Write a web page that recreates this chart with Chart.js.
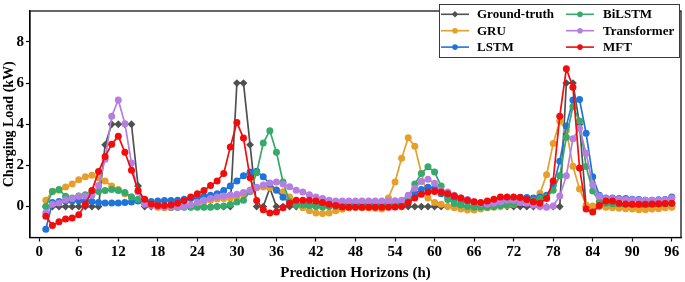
<!DOCTYPE html>
<html><head><meta charset="utf-8">
<script src="https://cdn.jsdelivr.net/npm/chart.js@4.4.1/dist/chart.umd.min.js"></script>
<style>html,body{margin:0;padding:0;background:#fff;}#wrap{position:relative;width:685px;height:282px;}</style>
</head><body><div id="wrap"><canvas id="c" width="685" height="282"></canvas></div>
<script>
const hours = [1,2,3,4,5,6,7,8,9,10,11,12,13,14,15,16,17,18,19,20,21,22,23,24,
25,26,27,28,29,30,31,32,33,34,35,36,37,38,39,40,41,42,43,44,45,46,47,48,
49,50,51,52,53,54,55,56,57,58,59,60,61,62,63,64,65,66,67,68,69,70,71,72,
73,74,75,76,77,78,79,80,81,82,83,84,85,86,87,88,89,90,91,92,93,94,95,96];
const xTicks = [0,6,12,18,24,30,36,42,48,54,60,66,72,78,84,90,96];
const yTicks = [0,2,4,6,8];
const seriesNames = ['Ground-truth','GRU','LSTM','BiLSTM','Transformer','MFT'];

const groundTruth = [0,0,0,0,0,0,0,0,0,3,4,4,
4,4,1,0,0,0,0,0,0,0,0,0,
0,0,0,0,0,6,6,3,0,0,0.9,0,
0,0,0,0,0,0,0,0,0,0,0,0,
0,0,0,0,0,0,0,0,0,0,0,0,
0,0,0,0,0,0,0,0,0,0,0,0,
0,0,0,0,0,0,0,6,6,4,0,0,
0,0,0,0,0,0,0,0,0,0,0,0];
const gru = [0.31,0.75,0.8,0.95,1.1,1.3,1.45,1.52,1.4,1.25,1.0,0.83,
0.63,0.47,0.31,0.2,0.08,-0.03,-0.05,-0.05,-0.03,0.0,0.05,0.16,
0.24,0.31,0.37,0.4,0.42,0.47,0.6,0.8,0.92,0.95,0.9,0.82,
0.72,0.47,0.08,-0.05,-0.2,-0.31,-0.33,-0.31,-0.2,-0.13,-0.05,-0.03,
-0.05,-0.05,-0.08,-0.11,0.42,1.2,2.35,3.34,2.93,1.61,0.42,0.2,
0.11,0.0,-0.05,-0.11,-0.16,-0.16,-0.11,-0.06,-0.03,0.0,0.05,0.12,
0.24,0.31,0.39,0.65,1.55,3.06,4.15,3.7,1.96,0.86,0.08,0.03,
0.0,-0.03,-0.05,-0.08,-0.1,-0.12,-0.15,-0.15,-0.12,-0.1,-0.05,-0.03];
const lstm = [-1.1,0.2,0.25,0.27,0.28,0.28,0.27,0.25,0.2,0.18,0.17,0.17,
0.2,0.23,0.27,0.28,0.25,0.27,0.3,0.3,0.31,0.36,0.39,0.44,
0.5,0.55,0.63,0.78,1.0,1.25,1.5,1.68,1.72,1.45,1.1,0.8,
0.45,0.2,0.12,0.1,0.1,0.1,0.1,0.1,0.1,0.1,0.1,0.1,
0.1,0.1,0.1,0.1,0.1,0.11,0.16,0.31,0.63,0.83,0.94,0.89,
0.63,0.47,0.39,0.31,0.24,0.2,0.16,0.2,0.24,0.28,0.31,0.38,
0.45,0.44,0.42,0.47,0.55,1.02,2.2,3.92,5.18,5.2,3.56,1.45,
0.55,0.42,0.42,0.39,0.39,0.36,0.35,0.31,0.31,0.33,0.35,0.47];
const bilstm = [0.0,0.74,0.83,0.5,0.42,0.52,0.58,0.68,0.74,0.78,0.83,0.78,
0.68,0.47,0.36,0.24,0.13,0.05,0.0,-0.03,-0.03,-0.03,-0.03,-0.03,
-0.03,-0.03,0.0,0.03,0.1,0.22,0.31,0.74,1.65,3.09,3.69,2.64,
1.2,0.24,0.08,0.08,0.05,0.0,-0.02,0.0,0.0,0.0,0.0,0.0,
0.0,0.0,0.0,0.02,0.05,0.08,0.16,0.47,1.1,1.61,1.93,1.68,
1.0,0.35,0.15,0.08,0.0,-0.03,-0.03,-0.03,0.0,0.05,0.08,0.15,
0.24,0.24,0.31,0.39,0.47,0.8,1.5,3.37,4.86,4.16,1.95,0.76,
0.24,0.16,0.14,0.13,0.12,0.12,0.12,0.12,0.12,0.13,0.14,0.16];
const transformer = [-0.3,0.11,0.18,0.33,0.4,0.5,0.52,0.55,1.02,2.3,4.39,5.18,
4.03,2.12,0.71,0.11,0.05,0.0,-0.02,-0.02,-0.02,0.0,0.08,0.2,
0.31,0.39,0.47,0.52,0.57,0.6,0.68,0.8,0.94,1.05,1.15,1.2,
1.1,0.97,0.8,0.71,0.58,0.47,0.39,0.31,0.27,0.27,0.27,0.27,
0.27,0.27,0.27,0.27,0.27,0.28,0.31,0.55,0.89,1.22,1.33,1.14,
0.78,0.71,0.55,0.42,0.35,0.24,0.16,0.11,0.16,0.24,0.31,0.31,
0.2,0.16,0.08,0.0,-0.03,0.03,0.52,1.5,3.3,3.8,2.59,1.05,
0.5,0.39,0.39,0.36,0.35,0.33,0.31,0.31,0.31,0.31,0.33,0.42];
const mft = [-0.47,-0.92,-0.73,-0.6,-0.55,-0.39,0.11,0.78,1.7,2.43,3.03,3.42,
2.64,1.77,0.78,0.36,0.13,0.05,0.05,0.08,0.16,0.28,0.47,0.63,
0.78,1.02,1.25,1.61,2.9,4.08,3.33,1.4,0.3,-0.15,-0.31,-0.26,
-0.06,0.16,0.31,0.31,0.31,0.27,0.2,0.11,0.05,-0.02,-0.03,-0.03,
-0.03,-0.03,-0.03,-0.03,-0.03,-0.02,0.0,0.2,0.42,0.6,0.71,0.74,
0.71,0.63,0.52,0.42,0.31,0.24,0.2,0.27,0.36,0.47,0.47,0.47,
0.44,0.35,0.24,0.16,0.4,1.25,4.39,6.7,5.8,1.88,-0.12,-0.26,
0.05,0.27,0.27,0.16,0.13,0.12,0.12,0.12,0.13,0.14,0.15,0.16];

const FONT = "'Liberation Serif','Times New Roman',serif";
const series = [
  {label: seriesNames[0], data: groundTruth, color: '#505050', style: 'rectRot', r: 3.9},
  {label: seriesNames[1], data: gru,         color: '#e69f2a', style: 'circle', r: 3.5},
  {label: seriesNames[2], data: lstm,        color: '#1f74db', style: 'circle', r: 3.5},
  {label: seriesNames[3], data: bilstm,      color: '#36a96b', style: 'circle', r: 3.5},
  {label: seriesNames[4], data: transformer, color: '#b47fe0', style: 'circle', r: 3.5},
  {label: seriesNames[5], data: mft,         color: '#f20c0c', style: 'circle', r: 3.5}
];

const datasets = series.map((s, i) => ({
  label: s.label,
  data: hours.map((h, j) => ({x: h, y: s.data[j]})),
  borderColor: s.color,
  backgroundColor: s.color,
  borderWidth: 1.7,
  pointRadius: s.r,
  pointStyle: s.style,
  pointBorderWidth: 0,
  pointBackgroundColor: s.color,
  tension: 0,
  order: series.length - i
}));

function drawMarker(ctx, style, x, y, r) {
  ctx.beginPath();
  if (style === 'rectRot') {
    ctx.moveTo(x, y - r); ctx.lineTo(x + r, y); ctx.lineTo(x, y + r); ctx.lineTo(x - r, y); ctx.closePath();
  } else {
    ctx.arc(x, y, r, 0, Math.PI * 2);
  }
  ctx.fill();
}

const framePlugin = {
  id: 'frame',
  afterDraw(chart) {
    const {ctx, chartArea: a} = chart;
    ctx.save();
    ctx.strokeStyle = '#000';
    ctx.lineWidth = 1.2;
    ctx.strokeRect(a.left, a.top, a.right - a.left, a.bottom - a.top);
    // legend
    const bx = 439.5, by = 4.5, bw = 240, bh = 53;
    ctx.fillStyle = '#fff';
    ctx.fillRect(bx, by, bw, bh);
    ctx.strokeStyle = '#3a3a3a';
    ctx.lineWidth = 1;
    ctx.strokeRect(bx, by, bw, bh);
    const cols = [{lx: 441, tx: 477}, {lx: 566, tx: 603}];
    const rows = [14.3, 30.7, 47.1];
    ctx.font = 'bold 13px ' + FONT;
    ctx.textBaseline = 'middle';
    ctx.textAlign = 'left';
    series.forEach((s, i) => {
      const c = cols[Math.floor(i / 3)], y = rows[i % 3];
      ctx.strokeStyle = s.color;
      ctx.lineWidth = 1.6;
      ctx.beginPath(); ctx.moveTo(c.lx, y); ctx.lineTo(c.lx + 28, y); ctx.stroke();
      ctx.fillStyle = s.color;
      drawMarker(ctx, s.style, c.lx + 14, y, s.r - 0.7);
      ctx.fillStyle = '#000';
      ctx.fillText(s.label, c.tx, y + 0.5);
    });
    ctx.restore();
  }
};

const tickFont = {family: FONT, size: 15, weight: 'bold'};
new Chart(document.getElementById('c'), {
  type: 'line',
  data: {datasets},
  options: {
    responsive: false,
    animation: false,
    devicePixelRatio: 1,
    layout: {padding: {left: 0, right: 3, top: 2.5, bottom: 0}},
    plugins: {legend: {display: false}, tooltip: {enabled: false}},
    scales: {
      x: {
        type: 'linear', min: -1.4, max: 97.4,
        afterBuildTicks: s => { s.ticks = xTicks.map(v => ({value: v})); },
        afterFit: s => { s.height = 44.5; },
        ticks: {font: tickFont, color: '#000', padding: 2, maxRotation: 0, autoSkip: false},
        grid: {drawOnChartArea: false, drawTicks: true, tickLength: 4, tickColor: '#000', tickWidth: 1.2},
        border: {display: true, color: '#000', width: 1.2},
        title: {display: true, text: 'Prediction Horizons (h)', color: '#000',
                font: {family: FONT, size: 15, weight: 'bold'}, padding: {top: 0, bottom: 0}}
      },
      y: {
        type: 'linear', min: -1.5, max: 9.5,
        afterBuildTicks: s => { s.ticks = yTicks.map(v => ({value: v})); },
        afterFit: s => { s.width = 30; },
        ticks: {font: tickFont, color: '#000', padding: 2},
        grid: {drawOnChartArea: false, drawTicks: true, tickLength: 4, tickColor: '#000', tickWidth: 1.2},
        border: {display: true, color: '#000', width: 1.2},
        title: {display: true, text: 'Charging Load (kW)', color: '#000',
                font: {family: FONT, size: 14, weight: 'bold'}, padding: {top: 1, bottom: 0}}
      }
    }
  },
  plugins: [framePlugin]
});
</script></body></html>
